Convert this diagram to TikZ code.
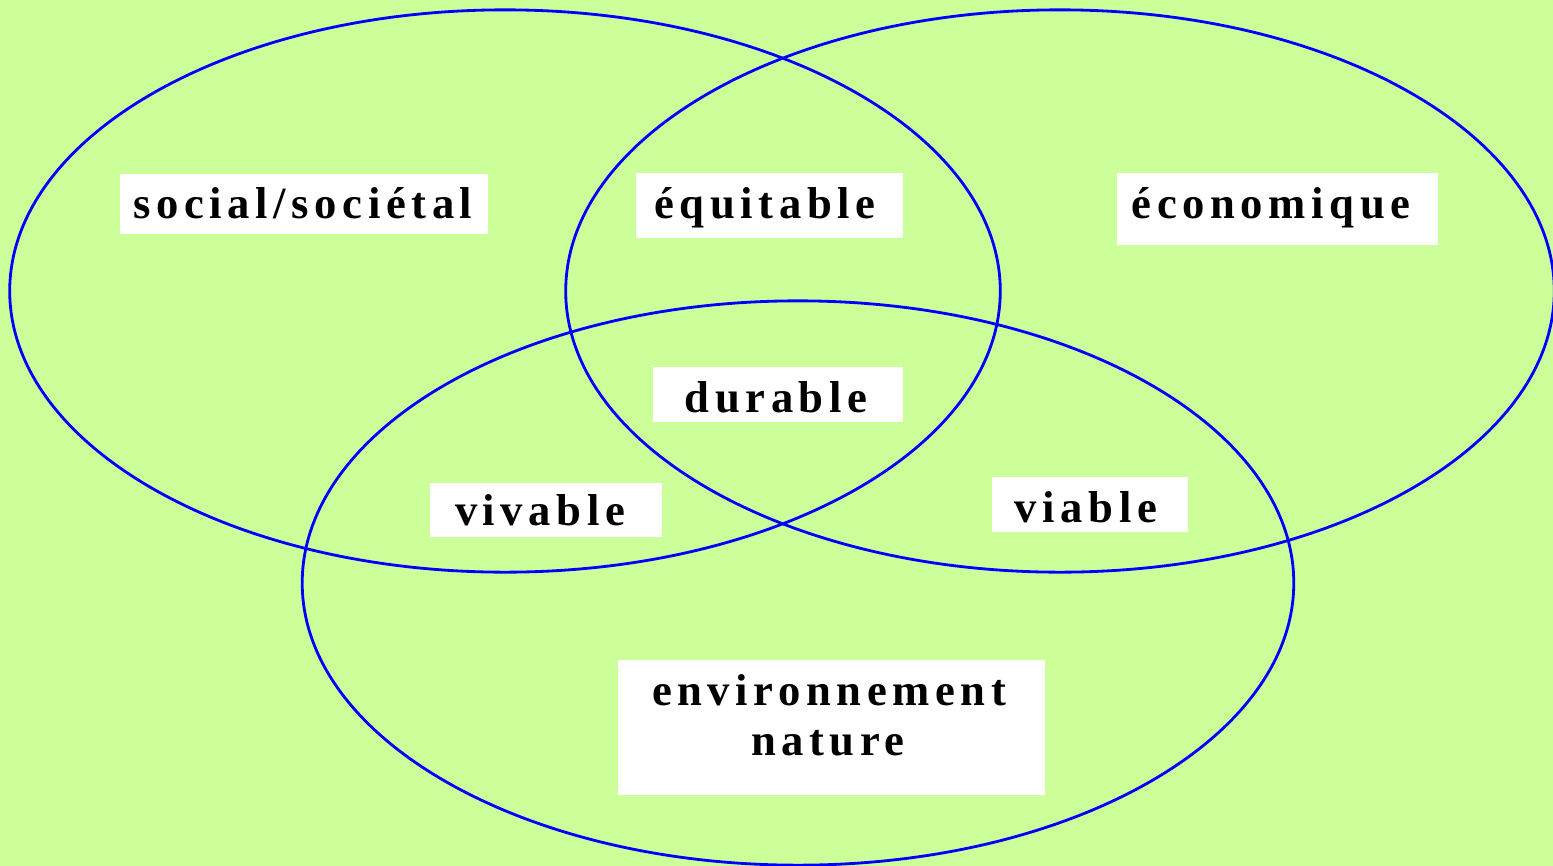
\documentclass[tikz,border=0pt]{standalone}
\usepackage{fontspec}
\setmainfont{Liberation Serif}
\newfontfamily\spacedfont[LetterSpace=12.5]{Liberation Serif}
\definecolor{paleGreen}{HTML}{CCFF99}

\tikzset{
  set line/.style={color=blue, line width=0.8pt},
  label box/.style={fill=white},
  word/.style={font=\spacedfont\bfseries\fontsize{12.7}{15}\selectfont, inner sep=0pt, anchor=base},
}

\begin{document}
\begin{tikzpicture}[x=0.01cm, y=-0.01cm]
    \useasboundingbox (0,0) rectangle (1553,866);
    \fill[paleGreen] (0,0) rectangle (1553,866);

    % the three sets
    \draw[set line] (505,291) ellipse [x radius=4.95cm, y radius=2.81cm];
    \draw[set line] (1060,291) ellipse [x radius=4.94cm, y radius=2.81cm];
    \draw[set line] (798,583) ellipse [x radius=4.955cm, y radius=2.82cm];

    % white boxes
    \fill[label box] (120,174) rectangle (488,234);
    \fill[label box] (636,173) rectangle (903,238);
    \fill[label box] (1117,173) rectangle (1438,245);
    \fill[label box] (653,367) rectangle (903,422);
    \fill[label box] (430,483) rectangle (662,537);
    \fill[label box] (992,477) rectangle (1188,532);
    \fill[label box] (618,660) rectangle (1045,795);

    \node[word] (social) at (303,218) {social/sociétal};
    \node[word] (equitable) at (765,218) {équitable};
    \node[word] (economique) at (1271,218) {économique};
    \node[word] (durable) at (776,412) {durable};
    \node[word] (vivable) at (540,525) {vivable};
    \node[word] (viable) at (1086,522) {viable};
    \node[word] (environnement) at (829,705) {environnement};
    \node[word] (nature) at (828,755) {nature};

\end{tikzpicture}
\end{document}
